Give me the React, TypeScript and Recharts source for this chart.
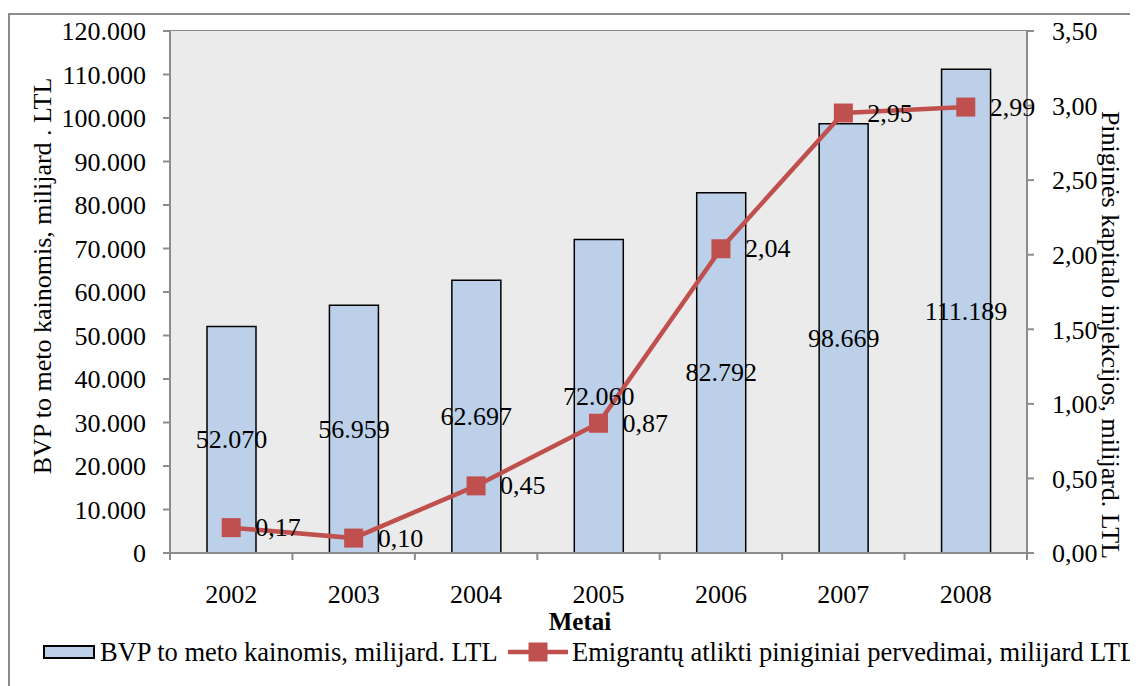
import * as React from 'react';
import {
  ComposedChart,
  Bar,
  Line,
  XAxis,
  YAxis,
  CartesianGrid,
  LabelList,
} from 'recharts';

const years = ['2002', '2003', '2004', '2005', '2006', '2007', '2008'];
const bvp = [52070, 56959, 62697, 72060, 82792, 98669, 111189];
const remittances = [0.17, 0.1, 0.45, 0.87, 2.04, 2.95, 2.99];
const leftTicks = [0, 10000, 20000, 30000, 40000, 50000, 60000, 70000, 80000, 90000, 100000, 110000, 120000];
const rightTicks = [0, 0.5, 1, 1.5, 2, 2.5, 3, 3.5];

const BAR_NAME = 'BVP to meto kainomis, milijard. LTL';
const LINE_NAME = 'Emigrantų atlikti piniginiai pervedimai, milijard LTL';

const FONT = '"Liberation Serif", "Times New Roman", serif';
const FS = 26;
const BAR_FILL = '#bcd0e9';
const RED = '#c0504d';
const GRID = '#8c8c8c';

const W = 1130;
const H = 678;
const M_TOP = 23;
const LEFT_W = 162;
const RIGHT_W = 111;
const X_H = 133;
const TICK = 7;
const X_MARGIN = 25;

const data = years.map((y, i) => ({ year: y, bvp: bvp[i], rem: remittances[i] }));

const fmtThousands = (v: number) => String(v).replace(/\B(?=(\d{3})+(?!\d))/g, '.');
const fmtComma = (v: number) => v.toFixed(2).replace('.', ',');

const plotW = W - LEFT_W - RIGHT_W;
const band = plotW / years.length;

function XTick(props: any) {
  const { x, y, payload, index } = props;
  const axisY = y - TICK - X_MARGIN;
  const left = x - band / 2;
  return (
    <g>
      <line x1={left} x2={left} y1={axisY} y2={axisY + TICK} stroke={GRID} strokeWidth={2} />
      {index === years.length - 1 && (
        <line x1={x + band / 2} x2={x + band / 2} y1={axisY} y2={axisY + TICK} stroke={GRID} strokeWidth={2} />
      )}
      <text x={x} y={y} dy="0.71em" textAnchor="middle" fontSize={FS} fontFamily={FONT} fill="#000">
        {payload.value}
      </text>
    </g>
  );
}

function SquareDot(props: any) {
  const { cx, cy } = props;
  if (cx == null || cy == null) return null;
  return <rect x={cx - 9.5} y={cy - 9.5} width={19} height={19} fill={RED} />;
}

function BarValue(props: any) {
  const { x, y, width, height, value } = props;
  return (
    <text
      x={x + width / 2}
      y={y + height / 2}
      textAnchor="middle"
      dominantBaseline="central"
      fontSize={FS}
      fontFamily={FONT}
      fill="#000"
    >
      {fmtThousands(value)}
    </text>
  );
}

function LineValue(props: any) {
  const { x, y, value } = props;
  return (
    <text x={x + 24} y={y} dominantBaseline="central" fontSize={FS} fontFamily={FONT} fill="#000">
      {fmtComma(value)}
    </text>
  );
}

export default function App() {
  return (
    <div style={{ position: 'relative', width: W, height: H, overflow: 'hidden', fontFamily: FONT }}>
      <div
        style={{
          position: 'absolute',
          left: 0,
          top: 5,
          width: W + 20,
          height: H + 20,
          border: '2px solid #8c8c8c',
          boxSizing: 'border-box',
        }}
      />
      <div style={{ position: 'absolute', left: 0, top: 0 }}>
        <ComposedChart width={W} height={H} data={data} margin={{ top: M_TOP, right: 0, left: 0, bottom: 0 }}>
          <rect x={LEFT_W} y={M_TOP} width={plotW} height={H - M_TOP - X_H} fill="#ebebeb" />
          <CartesianGrid vertical={false} stroke={GRID} strokeWidth={2} fill="#ebebeb" />
          <XAxis
            dataKey="year"
            height={X_H}
            tickLine={false}
            tickSize={TICK}
            tickMargin={X_MARGIN}
            axisLine={{ stroke: GRID, strokeWidth: 2 }}
            tick={<XTick />}
            interval={0}
            label={{
              content: () => (
                <text x={572} y={613} textAnchor="middle" dominantBaseline="central" fontSize={25} fontWeight="bold" fontFamily={FONT}>
                  Metai
                </text>
              ),
            }}
          />
          <YAxis
            yAxisId="left"
            width={LEFT_W}
            domain={[0, 120000]}
            ticks={leftTicks}
            interval={0}
            tickFormatter={fmtThousands}
            tickSize={TICK}
            tickMargin={17}
            tickLine={{ stroke: GRID, strokeWidth: 2 }}
            axisLine={{ stroke: GRID, strokeWidth: 2 }}
            tick={{ fontSize: FS, fontFamily: FONT, fill: '#000' }}
            label={{
              content: () => (
                <text
                  x={34}
                  y={268}
                  transform="rotate(-90 34 268)"
                  textAnchor="middle"
                  dominantBaseline="central"
                  fontSize={FS}
                  fontFamily={FONT}
                >
                  BVP to meto kainomis, milijard . LTL
                </text>
              ),
            }}
          />
          <YAxis
            yAxisId="right"
            orientation="right"
            width={RIGHT_W}
            domain={[0, 3.5]}
            ticks={rightTicks}
            interval={0}
            tickFormatter={fmtComma}
            tickSize={TICK}
            tickMargin={18}
            tickLine={{ stroke: GRID, strokeWidth: 2 }}
            axisLine={{ stroke: GRID, strokeWidth: 2 }}
            tick={{ fontSize: FS, fontFamily: FONT, fill: '#000' }}
            label={{
              content: () => (
                <text
                  x={1102}
                  y={327}
                  transform="rotate(90 1102 327)"
                  textAnchor="middle"
                  dominantBaseline="central"
                  fontSize={FS}
                  fontFamily={FONT}
                >
                  Piniginės kapitalo injekcijos, milijard. LTL
                </text>
              ),
            }}
          />
          <Bar
            yAxisId="left"
            dataKey="bvp"
            name={BAR_NAME}
            barSize={49}
            fill={BAR_FILL}
            stroke="#000"
            strokeWidth={1.5}
            isAnimationActive={false}
          >
            <LabelList dataKey="bvp" content={<BarValue />} />
          </Bar>
          <Line
            yAxisId="right"
            dataKey="rem"
            name={LINE_NAME}
            stroke={RED}
            strokeWidth={4.5}
            dot={<SquareDot />}
            activeDot={false}
            isAnimationActive={false}
          >
            <LabelList dataKey="rem" content={<LineValue />} />
          </Line>
        </ComposedChart>
      </div>
      {/* legend */}
      <div style={{ position: 'absolute', left: 35, top: 637, width: 52, height: 14, background: BAR_FILL, border: '2px solid #000', boxSizing: 'border-box' }} />
      <div style={{ position: 'absolute', left: 92, top: 644, transform: 'translateY(-50%)', fontSize: 26.5, whiteSpace: 'nowrap', color: '#000' }}>
        {BAR_NAME}
      </div>
      <svg style={{ position: 'absolute', left: 500, top: 634 }} width={62} height={20}>
        <line x1={0} x2={60} y1={10} y2={10} stroke={RED} strokeWidth={4.5} />
        <rect x={20.5} y={0.5} width={19} height={19} fill={RED} />
      </svg>
      <div style={{ position: 'absolute', left: 564, top: 644, transform: 'translateY(-50%)', fontSize: 26.5, whiteSpace: 'nowrap', color: '#000' }}>
        {LINE_NAME}
      </div>
    </div>
  );
}
